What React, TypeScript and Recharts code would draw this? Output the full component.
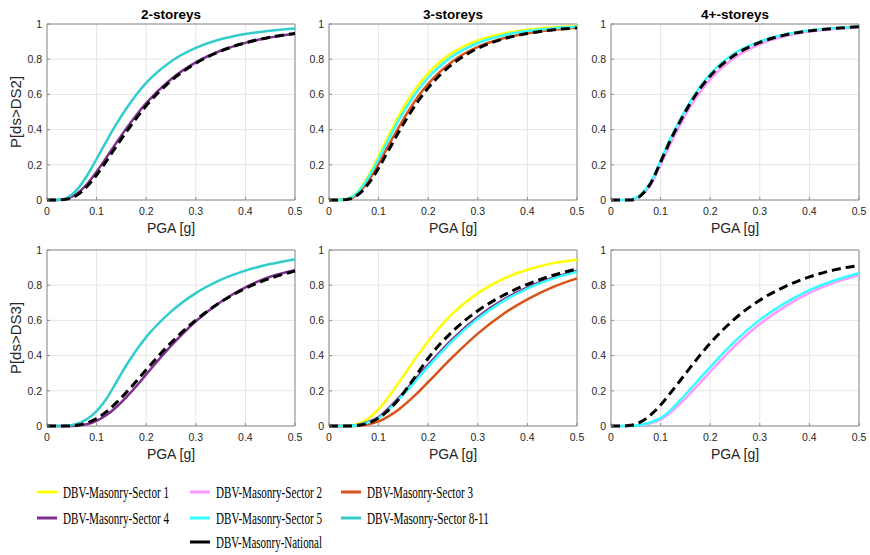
import React from 'react';
import { LineChart, Line, XAxis, YAxis, CartesianGrid, ReferenceArea } from 'recharts';

// x grid shared by every curve (PGA in g)
const pga = [0, 0.02, 0.04, 0.06, 0.08, 0.1, 0.12, 0.14, 0.16, 0.18, 0.2, 0.25, 0.3, 0.35, 0.4, 0.45, 0.5];
const pgaTicks = [0, 0.1, 0.2, 0.3, 0.4, 0.5];
const probTicks = [0, 0.2, 0.4, 0.6, 0.8, 1];

const storeyTitles = ['2-storeys', '3-storeys', '4+-storeys'];
const stateLabels = ['P[ds>DS2]', 'P[ds>DS3]'];

// DS2 - 2 storeys
const ds2TwoS4 = [0, 0, 0.007, 0.035, 0.088, 0.161, 0.242, 0.326, 0.407, 0.482, 0.55, 0.686, 0.782, 0.848, 0.893, 0.924, 0.945];
const ds2TwoS811 = [0, 0, 0.012, 0.057, 0.135, 0.233, 0.335, 0.432, 0.52, 0.598, 0.665, 0.787, 0.864, 0.913, 0.943, 0.962, 0.974];
const ds2TwoNat = [0, 0, 0.005, 0.027, 0.075, 0.142, 0.222, 0.306, 0.387, 0.464, 0.535, 0.677, 0.777, 0.846, 0.893, 0.925, 0.946];

// DS2 - 3 storeys
const ds2ThreeS1 = [0, 0, 0.01, 0.055, 0.14, 0.25, 0.365, 0.475, 0.571, 0.653, 0.721, 0.839, 0.907, 0.945, 0.968, 0.98, 0.988];
const ds2ThreeS3 = [0, 0, 0.006, 0.04, 0.11, 0.205, 0.31, 0.41, 0.505, 0.59, 0.66, 0.79, 0.87, 0.918, 0.948, 0.966, 0.978];
const ds2ThreeS5 = [0, 0, 0.009, 0.051, 0.131, 0.234, 0.345, 0.451, 0.545, 0.627, 0.696, 0.819, 0.892, 0.935, 0.96, 0.975, 0.984];
const ds2ThreeNat = [0, 0, 0.005, 0.033, 0.094, 0.181, 0.282, 0.383, 0.478, 0.563, 0.637, 0.775, 0.862, 0.914, 0.946, 0.966, 0.978];

// DS2 - 4+ storeys
const ds2FourS2 = [0, 0, 0.002, 0.025, 0.085, 0.2, 0.32, 0.43, 0.53, 0.615, 0.685, 0.81, 0.885, 0.93, 0.957, 0.972, 0.982];
const ds2FourS5 = [0, 0, 0.003, 0.03, 0.1, 0.225, 0.35, 0.46, 0.56, 0.645, 0.715, 0.835, 0.9, 0.94, 0.963, 0.976, 0.985];
const ds2FourNat = [0, 0, 0, 0.025, 0.095, 0.215, 0.34, 0.45, 0.55, 0.635, 0.705, 0.825, 0.895, 0.937, 0.961, 0.975, 0.984];

// DS3 - 2 storeys
const ds3TwoS4 = [0, 0, 0, 0.002, 0.01, 0.029, 0.062, 0.108, 0.164, 0.226, 0.293, 0.455, 0.595, 0.705, 0.788, 0.848, 0.885];
const ds3TwoS811 = [0, 0, 0.002, 0.012, 0.038, 0.085, 0.155, 0.25, 0.345, 0.43, 0.505, 0.65, 0.755, 0.83, 0.883, 0.92, 0.948];
const ds3TwoNat = [0, 0, 0, 0.004, 0.017, 0.043, 0.082, 0.133, 0.191, 0.254, 0.319, 0.473, 0.602, 0.704, 0.782, 0.839, 0.881];

// DS3 - 3 storeys
const ds3ThreeS1 = [0, 0, 0.0015, 0.013, 0.044, 0.096, 0.165, 0.244, 0.326, 0.407, 0.482, 0.641, 0.755, 0.835, 0.888, 0.924, 0.945];
const ds3ThreeS3 = [0, 0, 0, 0.002, 0.01, 0.026, 0.055, 0.093, 0.14, 0.193, 0.25, 0.394, 0.525, 0.634, 0.72, 0.788, 0.839];
const ds3ThreeS4 = [0, 0, 0.001, 0.007, 0.024, 0.05, 0.1, 0.158, 0.22, 0.285, 0.348, 0.497, 0.62, 0.715, 0.788, 0.841, 0.881];
const ds3ThreeS5 = [0, 0, 0.0007, 0.006, 0.021, 0.045, 0.093, 0.15, 0.21, 0.274, 0.337, 0.486, 0.61, 0.707, 0.781, 0.836, 0.877];
const ds3ThreeNat = [0, 0, 0, 0.004, 0.017, 0.045, 0.09, 0.15, 0.225, 0.305, 0.385, 0.54, 0.655, 0.74, 0.805, 0.855, 0.892];

// DS3 - 4+ storeys
const ds3FourS2 = [0, 0, 0.0005, 0.004, 0.016, 0.036, 0.076, 0.128, 0.186, 0.246, 0.308, 0.456, 0.579, 0.677, 0.756, 0.815, 0.858];
const ds3FourS5 = [0, 0, 0.0007, 0.006, 0.021, 0.045, 0.09, 0.148, 0.21, 0.273, 0.335, 0.482, 0.603, 0.697, 0.772, 0.827, 0.868];
const ds3FourNat = [0, 0, 0.004, 0.023, 0.063, 0.119, 0.188, 0.26, 0.333, 0.404, 0.47, 0.61, 0.715, 0.791, 0.847, 0.887, 0.912];

const SERIES: Record<string, { name: string; color: string; dashed?: boolean }> = {
  s1: { name: 'DBV-Masonry-Sector 1', color: '#FFFF00' },
  s2: { name: 'DBV-Masonry-Sector 2', color: '#FF99FF' },
  s3: { name: 'DBV-Masonry-Sector 3', color: '#D95319' },
  s4: { name: 'DBV-Masonry-Sector 4', color: '#7E2F8E' },
  s5: { name: 'DBV-Masonry-Sector 5', color: '#33FFFF' },
  s811: { name: 'DBV-Masonry-Sector 8-11', color: '#33CCCC' },
  nat: { name: 'DBV-Masonry-National', color: '#000000', dashed: true },
};
const ORDER = ['s1', 's2', 's3', 's4', 's5', 's811', 'nat'];

type Panel = { series: Record<string, number[]> };

const panels: Panel[] = [
  { series: { s4: ds2TwoS4, s811: ds2TwoS811, nat: ds2TwoNat } },
  { series: { s1: ds2ThreeS1, s3: ds2ThreeS3, s5: ds2ThreeS5, nat: ds2ThreeNat } },
  { series: { s2: ds2FourS2, s5: ds2FourS5, nat: ds2FourNat } },
  { series: { s4: ds3TwoS4, s811: ds3TwoS811, nat: ds3TwoNat } },
  { series: { s1: ds3ThreeS1, s3: ds3ThreeS3, s4: ds3ThreeS4, s5: ds3ThreeS5, nat: ds3ThreeNat } },
  { series: { s2: ds3FourS2, s5: ds3FourS5, nat: ds3FourNat } },
];

// plot-area placement
const COL_LEFT = [47, 329, 611];
const ROW_TOP = [24, 250];
const PLOT_W = 248;
const PLOT_H = 176;
const Y_AXIS_W = 40;
const X_AXIS_H = 25;
const M_TOP = 8;
const M_RIGHT = 12;
const FRAME = '#8c8c8c';

const tickStyle = { fontSize: 10.5, fill: '#262626', fontFamily: 'Liberation Sans, Arial, sans-serif' };

function FragilityPanel({ panel }: { panel: Panel }) {
  const keys = ORDER.filter((k) => panel.series[k]);
  const data = pga.map((x, i) => {
    const row: Record<string, number> = { pga: x };
    keys.forEach((k) => (row[k] = panel.series[k][i]));
    return row;
  });
  return (
    <LineChart
      width={Y_AXIS_W + PLOT_W + M_RIGHT}
      height={M_TOP + PLOT_H + X_AXIS_H}
      data={data}
      margin={{ top: M_TOP, right: M_RIGHT, bottom: 0, left: 0 }}
    >
      <CartesianGrid stroke='#e6e6e6' />
      <XAxis
        dataKey='pga'
        type='number'
        domain={[0, 0.5]}
        ticks={pgaTicks}
        interval={0}
        tickLine={{ stroke: FRAME }}
        tickSize={-3}
        tickMargin={11}
        axisLine={false}
        height={X_AXIS_H}
        tick={tickStyle}
      />
      <YAxis
        type='number'
        domain={[0, 1]}
        ticks={probTicks}
        interval={0}
        tickLine={{ stroke: FRAME }}
        tickSize={-3}
        tickMargin={8}
        axisLine={false}
        width={Y_AXIS_W}
        tick={tickStyle}
      />
      <ReferenceArea x1={0} x2={0.5} y1={0} y2={1} fill='none' stroke={FRAME} strokeWidth={1} />
      {keys.map((k) => (
        <Line
          key={k}
          dataKey={k}
          type='monotone'
          stroke={SERIES[k].color}
          strokeWidth={SERIES[k].dashed ? 3 : 2.5}
          strokeDasharray={SERIES[k].dashed ? '9 5' : undefined}
          dot={false}
          isAnimationActive={false}
        />
      ))}
    </LineChart>
  );
}

export default function App() {
  const legendCols = [37, 190, 341];
  const legendRows = [492, 518, 542];

  return (
    <div
      style={{
        position: 'absolute',
        left: 0,
        top: 0,
        width: 870,
        height: 555,
        background: '#fff',
        overflow: 'hidden',
      }}
    >
      {panels.map((p, i) => {
        const col = i % 3;
        const row = Math.floor(i / 3);
        return (
          <div
            key={i}
            style={{
              position: 'absolute',
              left: COL_LEFT[col] - Y_AXIS_W,
              top: ROW_TOP[row] - M_TOP,
            }}
          >
            <FragilityPanel panel={p} />
          </div>
        );
      })}

      {/* titles, axis labels and the shared legend */}
      <svg
        width={870}
        height={555}
        style={{ position: 'absolute', left: 0, top: 0, pointerEvents: 'none' }}
      >
        <g fontFamily='Liberation Sans, Arial, sans-serif' fill='#262626'>
          {storeyTitles.map((t, c) => (
            <text
              key={t}
              x={COL_LEFT[c] + PLOT_W / 2}
              y={19}
              textAnchor='middle'
              fontSize={13.5}
              fontWeight='bold'
              fill='#000'
            >
              {t}
            </text>
          ))}
          {ROW_TOP.map((top, r) =>
            COL_LEFT.map((left, c) => (
              <text
                key={`x-${r}-${c}`}
                x={left + PLOT_W / 2}
                y={top + PLOT_H + 33}
                textAnchor='middle'
                fontSize={14}
              >
                PGA [g]
              </text>
            ))
          )}
          {stateLabels.map((l, r) => (
            <text
              key={l}
              transform={`translate(21, ${ROW_TOP[r] + PLOT_H / 2}) rotate(-90)`}
              textAnchor='middle'
              fontSize={15}
            >
              {l}
            </text>
          ))}
        </g>
        <g fontFamily='Liberation Serif, Times New Roman, serif' fontSize={16.5} fill='#000'>
          {ORDER.map((k, i) => {
            const col = k === 'nat' ? 1 : i % 3;
            const row = k === 'nat' ? 2 : Math.floor(i / 3);
            const x = legendCols[col];
            const y = legendRows[row];
            const label = SERIES[k].name;
            return (
              <g key={k}>
                <line x1={x} x2={x + 20} y1={y} y2={y} stroke={SERIES[k].color} strokeWidth={3} />
                <text
                  x={x + 26}
                  y={y + 5.5}
                  textLength={label.length * 5.3}
                  lengthAdjust='spacingAndGlyphs'
                >
                  {label}
                </text>
              </g>
            );
          })}
        </g>
      </svg>
    </div>
  );
}
